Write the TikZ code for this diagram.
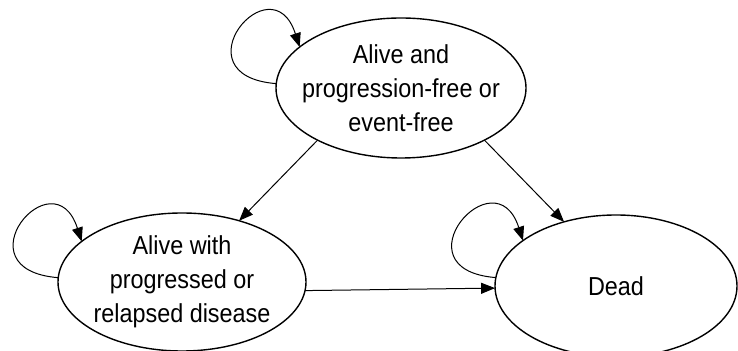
\documentclass[tikz,border=0pt]{standalone}
\usepackage{fontspec}
\setmainfont{Liberation Sans}[FakeStretch=0.9]
\usepackage{tikz}
\usetikzlibrary{arrows.meta, shapes.geometric}

\begin{document}
\begin{tikzpicture}[x=0.5pt, y=0.5pt,
  state/.style 2 args={ellipse, draw, line width=0.7pt, inner sep=0pt, outer sep=0pt,
               minimum width=#1, minimum height=#2},
  stlbl/.style={font=\fontsize{13pt}{17pt}\selectfont, align=center, inner sep=0pt},
  arr/.style={line width=0.5pt, -{Triangle[length=7pt, width=5.5pt]}},
  selfarc/.style={to path={.. controls +(-101,8) and +(-28,87) .. (\tikztotarget) \tikztonodes}}
]
\useasboundingbox (0,0) rectangle (738,-351);

% Top: progression-free
\node[state={125pt}{70pt}] (alive) at (401,-88) {};
\node[stlbl] (alivetxt) at (alive) {Alive and\\progression-free or\\event-free};

% Bottom-left: progressed
\node[state={124pt}{69pt}] (prog) at (182,-282) {};
\node[stlbl] (progtxt) at (prog) {Alive with\\progressed or\\relapsed disease};

% Bottom-right: dead
\node[state={121pt}{71pt}] (dead) at (616,-286) {};
\node[stlbl] (deadtxt) at (dead) {Dead};

% Transitions
\draw[arr] (alive.212) -- (prog.47);
\draw[arr] (alive.328) -- (dead.129);
\draw[arr] (prog.356) -- (dead.181);

% Staying in the same state
\draw[arr] (alive.178) to[selfarc] (alive.158);
\draw[arr] (prog.178) to[selfarc] (prog.158);
\draw[arr] (dead.176) to[selfarc] (dead.154);
\end{tikzpicture}
\end{document}
